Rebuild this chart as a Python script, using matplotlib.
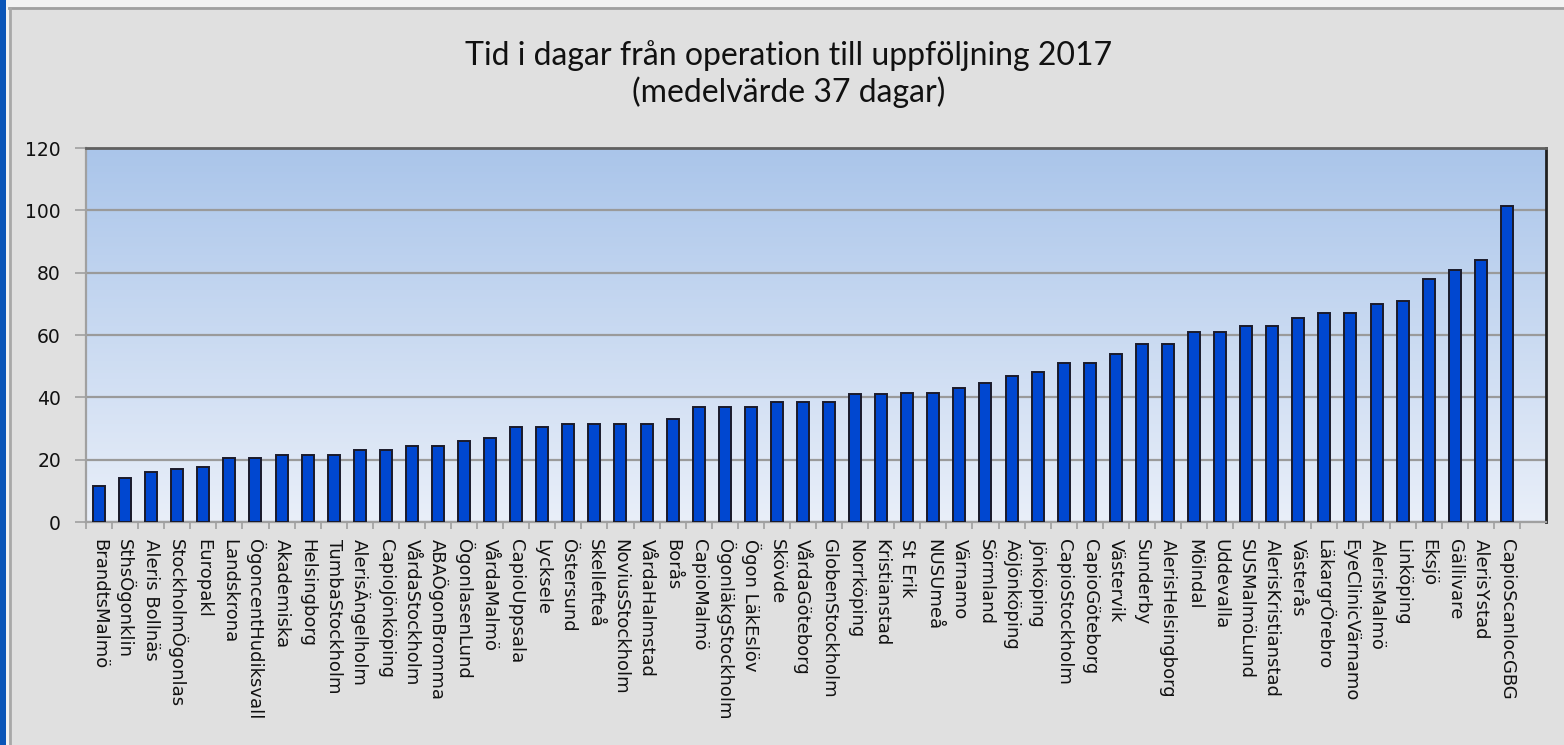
import numpy as np
import matplotlib
matplotlib.use("Agg")
import matplotlib.pyplot as plt
from matplotlib.patches import Rectangle
from matplotlib.lines import Line2D

kliniker = [
    "BrandtsMalmö", "SthsÖgonklin", "Aleris Bollnäs", "StockholmÖgonlas", "Europakl",
    "Landskrona", "ÖgoncentHudiksvall", "Akademiska", "Helsingborg", "TumbaStockholm",
    "AlerisÄngelholm", "CapioJönköping", "VårdaStockholm", "ABAÖgonBromma", "ÖgonlasenLund",
    "VårdaMalmö", "CapioUppsala", "Lycksele", "Östersund", "Skellefteå",
    "NoviusStockholm", "VårdaHalmstad", "Borås", "CapioMalmö", "ÖgonläkgStockholm",
    "Ögon LäkEslöv", "Skövde", "VårdaGöteborg", "GlobenStockholm", "Norrköping",
    "Kristianstad", "St Erik", "NUSUmeå", "Värnamo", "Sörmland",
    "AöJönköping", "Jönköping", "CapioStockholm", "CapioGöteborg", "Västervik",
    "Sunderby", "AlerisHelsingborg", "Mölndal", "Uddevalla", "SUSMalmöLund",
    "AlerisKristianstad", "Västerås", "LäkargrÖrebro", "EyeClinicVärnamo", "AlerisMalmö",
    "Linköping", "Eksjö", "Gällivare", "AlerisYstad", "CapioScanlocGBG",
]

dagar = [
    11.5, 14, 16, 17, 17.5, 20.5, 20.5, 21.5, 21.5, 21.5,
    23, 23, 24.5, 24.5, 26, 27, 30.5, 30.5, 31.5, 31.5,
    31.5, 31.5, 33, 37, 37, 37, 38.5, 38.5, 38.5, 41,
    41, 41.5, 41.5, 43, 44.5, 47, 48, 51, 51, 54,
    57, 57, 61, 61, 63, 63, 65.5, 67, 67, 70,
    71, 78, 81, 84, 101.5,
]

y_ticks = [0, 20, 40, 60, 80, 100, 120]

W, H = 1564, 745
fig = plt.figure(figsize=(W / 100, H / 100), dpi=100, facecolor="#e0e0e0")

# screenshot edges: blue strip on the left, light band on top, grey chart border
fig.patches.append(Rectangle((0, 1 - 7 / H), 1, 7 / H, transform=fig.transFigure,
                             facecolor="#f2f2f2", edgecolor="none", zorder=0))
fig.patches.append(Rectangle((0, 0), 9 / W, 1, transform=fig.transFigure,
                             facecolor="#f2f2f2", edgecolor="none", zorder=0))
fig.patches.append(Rectangle((0, 0), 6 / W, 1, transform=fig.transFigure,
                             facecolor="#0a55b8", edgecolor="none", zorder=1))
fig.lines.append(Line2D([9 / W, 1], [1 - 8 / H, 1 - 8 / H], transform=fig.transFigure,
                        color="#a0a0a0", lw=2))
fig.lines.append(Line2D([10 / W, 10 / W], [0, 1 - 8 / H], transform=fig.transFigure,
                        color="#a8a8a8", lw=2))

ax = fig.add_axes([86 / W, 1 - 522 / H, (1546 - 86) / W, (522 - 148) / H])

# gradient background of the plot area
grad = np.linspace(0, 1, 256).reshape(-1, 1)
top = np.array([0.667, 0.773, 0.918])
bot = np.array([0.914, 0.937, 0.976])
img = top[None, None, :] * (1 - grad[..., None]) + bot[None, None, :] * grad[..., None]
ax.imshow(img, extent=[0, 1, 0, 1], transform=ax.transAxes, aspect="auto", zorder=0)

x = np.arange(len(dagar))
ax.bar(x, dagar, width=0.46, color="#0047d0", edgecolor="#1a1a2a", linewidth=1.4, zorder=3)

ax.set_xlim(-0.5, len(dagar) + 0.5)
ax.set_ylim(0, 120)
ax.set_yticks(y_ticks)
ax.yaxis.grid(True, color="#9a9a9a", linewidth=1.6, zorder=1)
ax.set_axisbelow(True)

ax.set_xticks(x)
ax.set_xticklabels(kliniker, rotation=-90, ha="center", va="top", fontsize=13,
                   family="DejaVu Sans", color="#111111")
ax.set_xticks(np.arange(-0.5, len(dagar) + 0.5, 1), minor=True)
ax.tick_params(axis="x", which="major", length=0, pad=12)
ax.tick_params(axis="x", which="minor", length=5, width=1.2, color="#a0a0a0")
ax.tick_params(axis="y", length=8, width=1.2, color="#a0a0a0", labelsize=13.5, pad=10,
               labelcolor="#111111")

for s in ("left", "bottom"):
    ax.spines[s].set_color("#a0a0a0")
    ax.spines[s].set_linewidth(1.6)
ax.spines["top"].set_color("#606060")
ax.spines["top"].set_linewidth(2)
ax.spines["right"].set_color("#202020")
ax.spines["right"].set_linewidth(2)

fig.text(789 / W, 1 - 56 / H, "Tid i dagar från operation till uppföljning 2017",
         ha="center", va="center", fontsize=23, family="Lato", color="#111111")
fig.text(789 / W, 1 - 92 / H, "(medelvärde 37 dagar)",
         ha="center", va="center", fontsize=23, family="Lato", color="#111111")

fig.savefig("out.png", dpi=100, facecolor=fig.get_facecolor())
